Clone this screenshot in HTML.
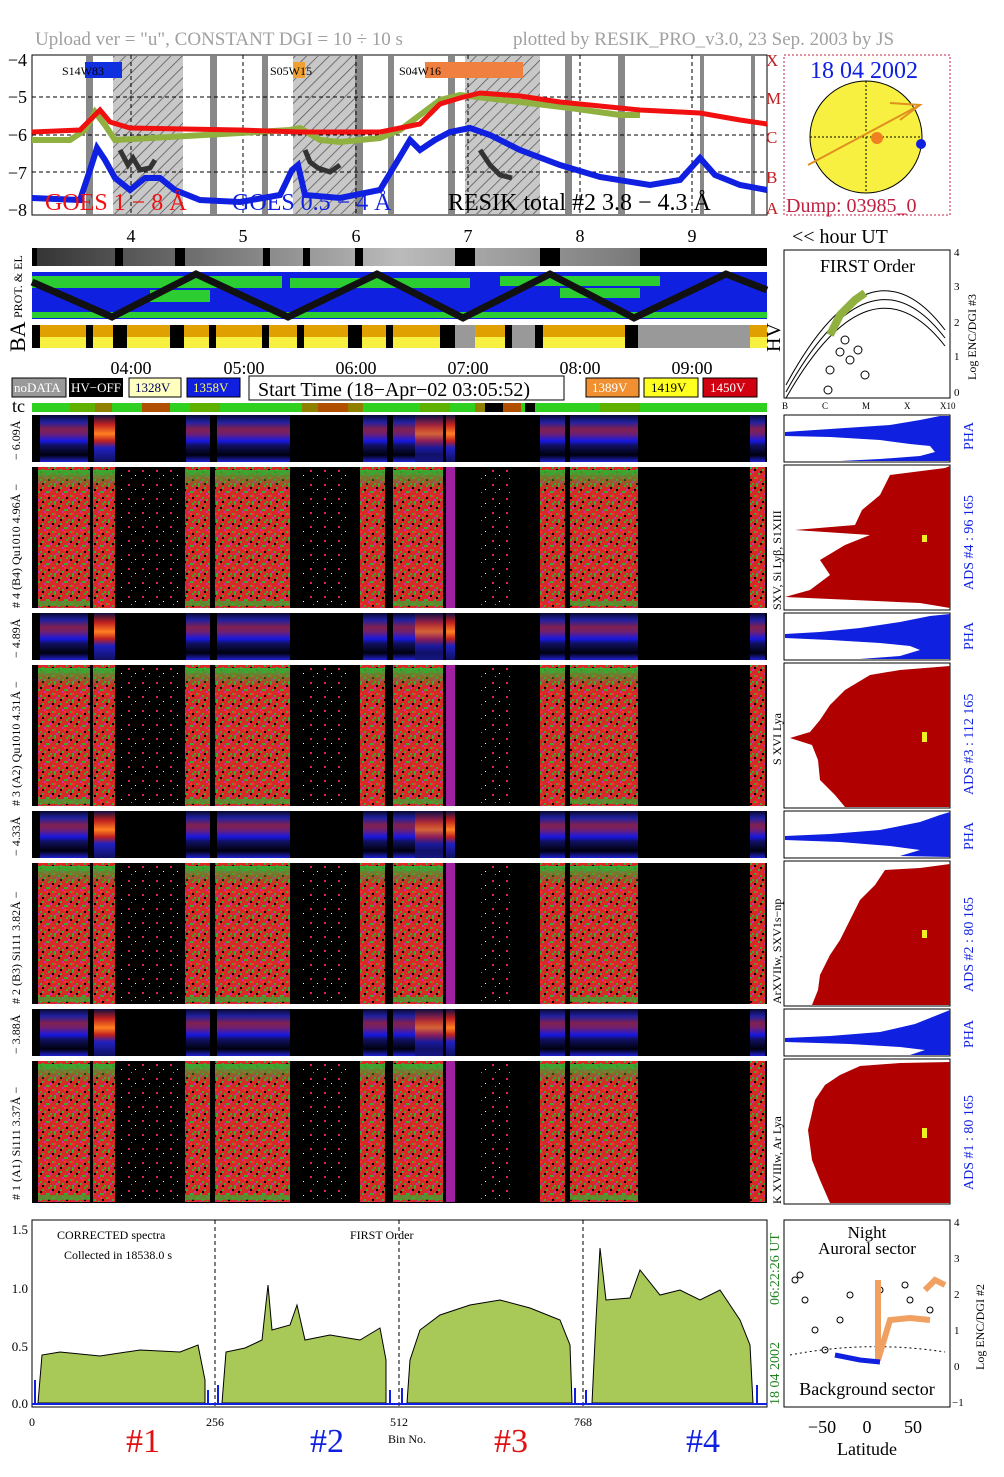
<!DOCTYPE html><html><head><style>body{margin:0;background:#fff}svg{display:block}text{font-family:"Liberation Serif",serif}</style></head><body>
<svg width="1004" height="1477" viewBox="0 0 1004 1477" xmlns="http://www.w3.org/2000/svg">
<defs>
<pattern id="hatch" width="8" height="8" patternUnits="userSpaceOnUse" patternTransform="rotate(45)"><rect width="8" height="8" fill="#c8c8c8"/><line x1="0" y1="0" x2="0" y2="8" stroke="#555" stroke-width="1.5"/></pattern>
<pattern id="noise" width="18" height="18" patternUnits="userSpaceOnUse"><rect width="18" height="18" fill="#d82828"/>
<g fill="#30b030"><rect x="0" y="0" width="2" height="2"/><rect x="6" y="2" width="2" height="2"/><rect x="12" y="0" width="2" height="2"/><rect x="2" y="6" width="2" height="2"/><rect x="10" y="6" width="4" height="2"/><rect x="16" y="10" width="2" height="2"/><rect x="4" y="12" width="2" height="2"/><rect x="8" y="14" width="2" height="2"/><rect x="14" y="16" width="2" height="2"/><rect x="0" y="16" width="2" height="2"/></g>
<g fill="#c030c0"><rect x="8" y="8" width="2" height="2"/><rect x="14" y="4" width="2" height="2"/><rect x="2" y="14" width="2" height="2"/></g>
<g fill="#000"><rect x="4" y="4" width="2" height="2"/><rect x="12" y="12" width="2" height="2"/><rect x="16" y="2" width="2" height="2"/><rect x="6" y="16" width="2" height="2"/></g>
<g fill="#ff3030"><rect x="10" y="10" width="2" height="2"/><rect x="0" y="10" width="2" height="2"/></g>
</pattern>
<pattern id="sparse" width="14" height="14" patternUnits="userSpaceOnUse"><rect width="14" height="14" fill="#000"/><rect x="2" y="3" width="2" height="2" fill="#e02050"/><rect x="9" y="8" width="1" height="1" fill="#fff"/><rect x="5" y="11" width="1" height="1" fill="#40c040"/></pattern>
<linearGradient id="pha" x1="0" y1="0" x2="0" y2="1"><stop offset="0" stop-color="#080830"/><stop offset="0.15" stop-color="#2020a0"/><stop offset="0.3" stop-color="#802050"/><stop offset="0.4" stop-color="#702070"/><stop offset="0.55" stop-color="#1818e0"/><stop offset="0.65" stop-color="#101060"/><stop offset="0.85" stop-color="#000010"/><stop offset="1" stop-color="#2020d0"/></linearGradient>
<linearGradient id="pha2" x1="0" y1="0" x2="0" y2="1"><stop offset="0" stop-color="#101040"/><stop offset="0.2" stop-color="#c02020"/><stop offset="0.4" stop-color="#ff8020"/><stop offset="0.55" stop-color="#c02020"/><stop offset="0.7" stop-color="#2020c0"/><stop offset="1" stop-color="#101060"/></linearGradient>
<linearGradient id="gtop" x1="0" y1="0" x2="0" y2="1"><stop offset="0" stop-color="#30b030"/><stop offset="1" stop-color="#30b030" stop-opacity="0"/></linearGradient>
<linearGradient id="grey" x1="0" y1="0" x2="1" y2="0"><stop offset="0" stop-color="#333"/><stop offset="0.5" stop-color="#bbb"/><stop offset="1" stop-color="#555"/></linearGradient>
<g id="row">
<rect x="38" width="52" height="141" fill="url(#noise)"/><rect x="93" width="22" height="141" fill="url(#noise)"/><rect x="120" width="58" height="141" fill="url(#sparse)"/><rect x="185" width="25" height="141" fill="url(#noise)"/><rect x="215" width="75" height="141" fill="url(#noise)"/><rect x="300" width="50" height="141" fill="url(#sparse)"/><rect x="360" width="25" height="141" fill="url(#noise)"/><rect x="393" width="50" height="141" fill="url(#noise)"/><rect x="446" width="9" height="141" fill="#a020a0"/><rect x="480" width="30" height="141" fill="url(#sparse)"/><rect x="540" width="25" height="141" fill="url(#noise)"/><rect x="570" width="68" height="141" fill="url(#noise)"/><rect x="750" width="15" height="141" fill="url(#noise)"/>
<g fill="url(#gtop)"><rect x="38" y="3" width="52" height="18"/><rect x="93" y="3" width="22" height="18"/><rect x="185" y="3" width="25" height="18"/><rect x="215" y="3" width="75" height="18"/><rect x="360" y="3" width="25" height="18"/><rect x="393" y="3" width="50" height="18"/><rect x="540" y="3" width="25" height="18"/><rect x="570" y="3" width="68" height="18"/></g>
<g fill="#30b030" opacity="0.7"><rect x="38" y="134" width="52" height="5"/><rect x="185" y="134" width="25" height="5"/><rect x="215" y="134" width="75" height="5"/><rect x="393" y="134" width="50" height="5"/><rect x="570" y="134" width="68" height="5"/></g>
</g>
<g id="prow">
<rect x="40" width="48" height="47" fill="url(#pha)"/><rect x="94" width="21" height="47" fill="url(#pha2)"/><rect x="186" width="24" height="47" fill="url(#pha)"/><rect x="217" width="73" height="47" fill="url(#pha)"/><rect x="363" width="24" height="47" fill="url(#pha)"/><rect x="393" width="50" height="47" fill="url(#pha)"/><rect x="415" width="28" height="47" fill="url(#pha2)" opacity="0.7"/><rect x="446" width="9" height="47" fill="url(#pha2)"/><rect x="540" width="25" height="47" fill="url(#pha)"/><rect x="570" width="68" height="47" fill="url(#pha)"/><rect x="750" width="15" height="47" fill="url(#pha)"/>
</g>
</defs>
<text x="35" y="45" font-size="19" fill="#a0a0a0">Upload ver = "u", CONSTANT  DGI =  10 ÷  10 s</text>
<text x="513" y="45" font-size="19" fill="#a0a0a0">plotted by RESIK_PRO_v3.0, 23 Sep. 2003 by JS</text>
<rect x="32" y="55" width="735" height="160" fill="#fff" stroke="#000"/>
<g fill="url(#hatch)"><rect x="113" y="56" width="70" height="158"/><rect x="293" y="56" width="64" height="158"/><rect x="465" y="56" width="75" height="158"/></g>
<g fill="#888"><rect x="86" y="56" width="7" height="158"/><rect x="210" y="56" width="7" height="158"/><rect x="262" y="56" width="6" height="158"/><rect x="355" y="56" width="8" height="158"/><rect x="388" y="56" width="6" height="158"/><rect x="448" y="56" width="7" height="158"/><rect x="565" y="56" width="7" height="158"/><rect x="618" y="56" width="7" height="158"/><rect x="700" y="56" width="4" height="158"/><rect x="751" y="56" width="4" height="158"/></g>
<g stroke="#000" stroke-dasharray="4,3" stroke-width="1"><line x1="32" y1="97" x2="767" y2="97"/><line x1="32" y1="135" x2="767" y2="135"/><line x1="32" y1="172" x2="767" y2="172"/><line x1="131" y1="55" x2="131" y2="215"/><line x1="243" y1="55" x2="243" y2="215"/><line x1="356" y1="55" x2="356" y2="215"/><line x1="468" y1="55" x2="468" y2="215"/><line x1="580" y1="55" x2="580" y2="215"/><line x1="692" y1="55" x2="692" y2="215"/></g>
<rect x="85" y="62" width="37" height="16" fill="#1030e0"/><text x="62" y="75" font-size="12">S14W83</text>
<rect x="293" y="62" width="12" height="16" fill="#f0a030"/><text x="270" y="75" font-size="12">S05W15</text>
<rect x="425" y="62" width="98" height="16" fill="#f08040"/><text x="399" y="75" font-size="12">S04W16</text>
<polyline fill="none" stroke="#90b040" stroke-width="6" points="32,140 70,140 85,130 95,112 105,125 115,140 240,133 290,130 300,128 320,140 340,142 380,138 400,130 420,115 440,100 460,95 520,102 570,108 620,115 640,115"/>
<polyline fill="none" stroke="#f01010" stroke-width="5" points="32,132 80,130 92,118 100,110 110,122 130,128 240,130 300,132 380,132 420,124 440,104 460,98 480,93 520,96 560,102 640,110 700,113 740,120 767,124"/>
<polyline fill="none" stroke="#1020e0" stroke-width="6" points="32,198 80,200 90,170 97,148 105,160 115,178 130,190 145,178 160,178 175,190 200,200 240,202 280,195 292,170 298,165 305,195 340,198 380,190 395,165 410,140 420,150 435,140 450,132 470,128 490,135 520,150 560,165 600,177 650,185 680,180 700,158 715,175 740,185 767,190"/>
<polyline fill="none" stroke="#333" stroke-width="5" points="120,150 128,165 133,158 140,170 150,168 155,160"/>
<polyline fill="none" stroke="#333" stroke-width="5" points="305,150 310,162 318,168 330,172 340,165"/>
<polyline fill="none" stroke="#333" stroke-width="5" points="480,150 490,165 500,175 512,178"/>
<text x="45" y="210" font-size="24" fill="#f01010">GOES 1 − 8 Å</text>
<text x="232" y="210" font-size="24" fill="#1020e0">GOES 0.5 − 4 Å</text>
<text x="448" y="210" font-size="24">RESIK total #2  3.8 − 4.3 Å</text>
<g font-size="18" text-anchor="end"><text x="27" y="66">−4</text><text x="27" y="103">−5</text><text x="27" y="141">−6</text><text x="27" y="179">−7</text><text x="27" y="216">−8</text></g>
<g font-size="17" fill="#c02020"><text x="766" y="214">A</text><text x="766" y="183">B</text><text x="766" y="143">C</text><text x="766" y="104">M</text><text x="766" y="66">X</text></g>
<g font-size="18" text-anchor="middle"><text x="131" y="242">4</text><text x="243" y="242">5</text><text x="356" y="242">6</text><text x="468" y="242">7</text><text x="580" y="242">8</text><text x="692" y="242">9</text></g>
<text x="792" y="243" font-size="20">&lt;&lt; hour UT</text>
<rect x="784" y="55" width="166" height="160" fill="#fff" stroke="#c02040" stroke-dasharray="2,2"/>
<circle cx="866" cy="137" r="56" fill="#f8f040" stroke="#000"/>
<line x1="810" y1="137" x2="922" y2="137" stroke="#000" stroke-dasharray="2,2"/><line x1="866" y1="81" x2="866" y2="193" stroke="#000" stroke-dasharray="2,2"/>
<line x1="808" y1="165" x2="920" y2="105" stroke="#e09020" stroke-width="2"/><polyline points="890,103 920,105 900,120" fill="none" stroke="#e09020" stroke-width="2"/>
<circle cx="877" cy="138" r="6" fill="#f08020"/><circle cx="921" cy="144" r="5" fill="#1020e0"/>
<text x="810" y="78" font-size="24" fill="#1020e0">18 04 2002</text>
<text x="786" y="212" font-size="20" fill="#c02040">Dump: 03985_0</text>
<rect x="32" y="248" width="735" height="18" fill="url(#grey)"/>
<g fill="#000"><rect x="32" y="248" width="5" height="18"/><rect x="115" y="248" width="8" height="18"/><rect x="175" y="248" width="10" height="18"/><rect x="263" y="248" width="7" height="18"/><rect x="303" y="248" width="7" height="18"/><rect x="355" y="248" width="8" height="18"/><rect x="455" y="248" width="20" height="18"/><rect x="540" y="248" width="20" height="18"/><rect x="640" y="248" width="127" height="18"/></g>
<rect x="32" y="272" width="735" height="47" fill="#1020e0"/>
<g fill="#30e020" opacity="0.9"><rect x="32" y="276" width="250" height="12"/><rect x="290" y="278" width="180" height="10"/><rect x="500" y="276" width="160" height="10"/><rect x="32" y="312" width="735" height="6"/><rect x="150" y="290" width="60" height="12"/><rect x="560" y="288" width="80" height="10"/></g>
<polyline fill="none" stroke="#111" stroke-width="7" points="32,282 112,317 196,274 288,317 377,274 463,318 550,274 634,318 726,274 767,290"/>
<rect x="32" y="325" width="735" height="23" fill="#000"/>
<rect x="32" y="325" width="735" height="12" fill="#e0a000"/><rect x="32" y="337" width="735" height="11" fill="#f8f040"/>
<g fill="#000"><rect x="32" y="325" width="8" height="23"/><rect x="86" y="325" width="7" height="23"/><rect x="113" y="325" width="14" height="23"/><rect x="170" y="325" width="14" height="23"/><rect x="209" y="325" width="7" height="23"/><rect x="262" y="325" width="7" height="23"/><rect x="297" y="325" width="7" height="23"/><rect x="348" y="325" width="14" height="23"/><rect x="386" y="325" width="7" height="23"/><rect x="440" y="325" width="15" height="23"/><rect x="505" y="325" width="7" height="23"/><rect x="535" y="325" width="8" height="23"/><rect x="625" y="325" width="13" height="23"/></g>
<rect x="455" y="325" width="20" height="23" fill="#999"/><rect x="512" y="325" width="23" height="23" fill="#999"/><rect x="638" y="325" width="112" height="23" fill="#999"/>
<text x="22" y="318" font-size="12" transform="rotate(-90 22 318)">PROT. &amp; EL</text>
<text x="25" y="352" font-size="22" transform="rotate(-90 25 352)">BA</text>
<text x="780" y="352" font-size="20" transform="rotate(-90 780 352)">HV</text>
<rect x="784" y="250" width="166" height="148" fill="#fff" stroke="#000"/>
<text x="820" y="272" font-size="18">FIRST Order</text>
<path d="M786,385 Q870,230 945,330" fill="none" stroke="#000"/><path d="M786,392 Q870,240 945,338" fill="none" stroke="#000"/><path d="M786,398 Q870,250 945,346" fill="none" stroke="#000"/>
<polyline fill="none" stroke="#90b040" stroke-width="8" points="830,335 840,315 855,300 865,293"/>
<g fill="none" stroke="#000"><circle cx="840" cy="352" r="4"/><circle cx="850" cy="360" r="4"/><circle cx="858" cy="350" r="4"/><circle cx="830" cy="370" r="4"/><circle cx="865" cy="375" r="4"/><circle cx="845" cy="340" r="4"/><circle cx="828" cy="390" r="4"/></g>
<g font-size="9"><text x="782" y="409">B</text><text x="822" y="409">C</text><text x="862" y="409">M</text><text x="904" y="409">X</text><text x="940" y="409">X10</text></g>
<g font-size="11"><text x="954" y="256">4</text><text x="954" y="290">3</text><text x="954" y="326">2</text><text x="954" y="360">1</text><text x="954" y="396">0</text></g>
<text x="976" y="380" font-size="12" transform="rotate(-90 976 380)">Log ENC/DGI #3</text>
<g font-size="18" text-anchor="middle"><text x="131" y="374">04:00</text><text x="244" y="374">05:00</text><text x="356" y="374">06:00</text><text x="468" y="374">07:00</text><text x="580" y="374">08:00</text><text x="692" y="374">09:00</text></g>
<rect x="12" y="378" width="54" height="19" fill="#999" stroke="#000"/><text x="14" y="392" font-size="13" fill="#fff">noDATA</text>
<rect x="69" y="378" width="54" height="19" fill="#000"/><text x="71" y="392" font-size="13" fill="#fff">HV−OFF</text>
<rect x="129" y="378" width="52" height="19" fill="#ffffc0" stroke="#000"/><text x="135" y="392" font-size="13" fill="#000060">1328V</text>
<rect x="187" y="378" width="53" height="19" fill="#1020e0" stroke="#000"/><text x="193" y="392" font-size="13" fill="#ffff60">1358V</text>
<rect x="249" y="376" width="315" height="24" fill="#fff" stroke="#000"/><text x="258" y="396" font-size="20">Start Time (18−Apr−02 03:05:52)</text>
<rect x="586" y="378" width="53" height="19" fill="#f09030" stroke="#000"/><text x="592" y="392" font-size="13" fill="#fff">1389V</text>
<rect x="644" y="378" width="54" height="19" fill="#ffff20" stroke="#000"/><text x="651" y="392" font-size="13" fill="#000">1419V</text>
<rect x="703" y="378" width="54" height="19" fill="#d00010" stroke="#000"/><text x="710" y="392" font-size="13" fill="#fff">1450V</text>
<text x="12" y="412" font-size="18">tc</text>
<rect x="32" y="403" width="735" height="9" fill="#30d020"/>
<g fill="#60b000"><rect x="70" y="403" width="25" height="9"/><rect x="190" y="403" width="30" height="9"/><rect x="420" y="403" width="30" height="9"/><rect x="600" y="403" width="40" height="9"/></g>
<g fill="#b05000"><rect x="142" y="403" width="28" height="9"/><rect x="318" y="403" width="30" height="9"/><rect x="503" y="403" width="18" height="9"/></g>
<g fill="#908000"><rect x="95" y="403" width="17" height="9"/><rect x="302" y="403" width="16" height="9"/><rect x="348" y="403" width="15" height="9"/><rect x="475" y="403" width="20" height="9"/></g>
<rect x="485" y="403" width="18" height="9" fill="#000"/><rect x="525" y="403" width="10" height="9" fill="#000"/>
<rect x="32" y="415" width="735" height="788" fill="#000"/>
<use href="#prow" y="415"/><use href="#prow" y="613"/><use href="#prow" y="811"/><use href="#prow" y="1009"/>
<use href="#row" y="467"/><use href="#row" y="665"/><use href="#row" y="863"/><use href="#row" y="1061"/>
<g fill="#fff"><rect x="32" y="462" width="735" height="5"/><rect x="32" y="608" width="735" height="5"/><rect x="32" y="660" width="735" height="5"/><rect x="32" y="806" width="735" height="5"/><rect x="32" y="858" width="735" height="5"/><rect x="32" y="1004" width="735" height="5"/><rect x="32" y="1056" width="735" height="5"/></g>
<g font-size="12">
<text x="20" y="460" transform="rotate(-90 20 460)">− 6.09Å</text>
<text x="20" y="608" transform="rotate(-90 20 608)"># 4 (B4) Qu1010 4.96Å −</text>
<text x="20" y="658" transform="rotate(-90 20 658)">− 4.89Å</text>
<text x="20" y="806" transform="rotate(-90 20 806)"># 3 (A2) Qu1010  4.31Å −</text>
<text x="20" y="856" transform="rotate(-90 20 856)">− 4.33Å</text>
<text x="20" y="1004" transform="rotate(-90 20 1004)"># 2 (B3) Si111  3.82Å −</text>
<text x="20" y="1054" transform="rotate(-90 20 1054)">− 3.88Å</text>
<text x="20" y="1200" transform="rotate(-90 20 1200)"># 1 (A1) Si111  3.37Å −</text>
</g>
<g stroke="#000" fill="#fff"><rect x="784" y="415" width="166" height="47"/><rect x="784" y="465" width="166" height="145"/><rect x="784" y="613" width="166" height="47"/><rect x="784" y="663" width="166" height="145"/><rect x="784" y="811" width="166" height="47"/><rect x="784" y="861" width="166" height="145"/><rect x="784" y="1009" width="166" height="47"/><rect x="784" y="1059" width="166" height="145"/></g>
<polygon fill="#1020e0" points="950,416 940,416 920,420 890,425 830,429 785,432 785,436 830,437 880,440 910,444 930,446 935,452 920,456 880,459 840,461 950,461"/>
<polygon fill="#1020e0" points="950,614 930,616 900,622 860,628 820,632 785,634 785,638 830,640 880,643 910,646 920,650 900,656 860,659 950,659"/>
<polygon fill="#1020e0" points="950,812 940,815 920,822 880,830 830,834 785,836 785,840 840,842 890,846 920,850 900,856 950,857"/>
<polygon fill="#1020e0" points="950,1010 935,1016 915,1024 880,1032 830,1036 785,1038 785,1042 850,1044 900,1047 925,1050 910,1055 950,1055"/>
<polygon fill="#b00000" points="950,466 945,468 890,475 880,495 862,510 855,525 795,530 870,535 845,545 820,560 830,575 810,590 785,597 920,603 950,608"/>
<polygon fill="#b00000" points="950,666 900,670 870,675 845,690 830,705 820,720 810,732 790,738 812,745 818,760 820,780 835,795 845,807 950,807"/>
<polygon fill="#b00000" points="950,864 920,868 885,870 875,885 860,900 850,920 840,940 830,955 820,975 818,990 812,1005 950,1005"/>
<polygon fill="#b00000" points="950,1062 900,1063 860,1066 840,1075 825,1085 815,1100 808,1130 812,1160 820,1180 830,1203 950,1203"/>
<g fill="#f0f020"><rect x="922" y="535" width="5" height="7"/><rect x="922" y="732" width="5" height="10"/><rect x="922" y="930" width="5" height="8"/><rect x="922" y="1128" width="5" height="10"/></g>
<g font-size="14" fill="#1020e0">
<text x="973" y="450" transform="rotate(-90 973 450)">PHA</text>
<text x="973" y="590" transform="rotate(-90 973 590)">ADS #4 :   96 165</text>
<text x="973" y="650" transform="rotate(-90 973 650)">PHA</text>
<text x="973" y="795" transform="rotate(-90 973 795)">ADS #3 :   112 165</text>
<text x="973" y="850" transform="rotate(-90 973 850)">PHA</text>
<text x="973" y="992" transform="rotate(-90 973 992)">ADS #2 :   80 165</text>
<text x="973" y="1048" transform="rotate(-90 973 1048)">PHA</text>
<text x="973" y="1190" transform="rotate(-90 973 1190)">ADS #1 :   80 165</text>
</g>
<g font-size="12">
<text x="781" y="610" transform="rotate(-90 781 610)">SXV, Si Lyβ, S1XIII</text>
<text x="781" y="765" transform="rotate(-90 781 765)">S XVI Lya</text>
<text x="781" y="1004" transform="rotate(-90 781 1004)">ArXVIIw, SXV1s−np</text>
<text x="781" y="1204" transform="rotate(-90 781 1204)">K XVIIIw, Ar Lya</text>
</g>
<rect x="32" y="1220" width="735" height="187" fill="#fff" stroke="#000"/>
<g fill="#a8c858" stroke="#000" stroke-width="1">
<polygon points="38,1403 42,1355 60,1352 100,1356 140,1350 180,1352 198,1345 205,1380 205,1403"/>
<polygon points="222,1403 226,1352 245,1348 262,1340 268,1285 272,1330 290,1325 297,1305 305,1340 330,1335 360,1340 380,1328 386,1360 386,1403"/>
<polygon points="407,1403 410,1360 420,1330 440,1315 470,1305 500,1300 530,1308 560,1320 570,1345 572,1403"/>
<polygon points="592,1403 596,1320 600,1248 606,1300 630,1298 640,1270 660,1295 680,1290 700,1300 720,1290 740,1320 750,1345 753,1403"/>
</g>
<g stroke="#000" stroke-dasharray="4,3"><line x1="215" y1="1220" x2="215" y2="1407"/><line x1="399" y1="1220" x2="399" y2="1407"/><line x1="583" y1="1220" x2="583" y2="1407"/></g>
<g stroke="#1020e0" stroke-width="2"><line x1="35" y1="1403" x2="35" y2="1380"/><line x1="208" y1="1403" x2="208" y2="1390"/><line x1="218" y1="1403" x2="218" y2="1385"/><line x1="390" y1="1403" x2="390" y2="1390"/><line x1="402" y1="1403" x2="402" y2="1388"/><line x1="575" y1="1403" x2="575" y2="1388"/><line x1="586" y1="1403" x2="586" y2="1390"/><line x1="757" y1="1403" x2="757" y2="1385"/><line x1="32" y1="1404" x2="767" y2="1404"/></g>
<g font-size="13" text-anchor="end"><text x="28" y="1234">1.5</text><text x="28" y="1293">1.0</text><text x="28" y="1351">0.5</text><text x="28" y="1408">0.0</text></g>
<g font-size="12" text-anchor="middle"><text x="32" y="1426">0</text><text x="215" y="1426">256</text><text x="399" y="1426">512</text><text x="583" y="1426">768</text><text x="407" y="1443">Bin No.</text></g>
<text x="57" y="1239" font-size="12">CORRECTED spectra</text><text x="64" y="1259" font-size="12">Collected in 18538.0 s</text>
<text x="350" y="1239" font-size="12">FIRST Order</text>
<text x="779" y="1405" font-size="14" fill="#208020" transform="rotate(-90 779 1405)">18 04 2002</text>
<text x="779" y="1305" font-size="14" fill="#208020" transform="rotate(-90 779 1305)">06:22:26 UT</text>
<g font-size="34" text-anchor="middle"><text x="143" y="1452" fill="#e01010">#1</text><text x="327" y="1452" fill="#1020e0">#2</text><text x="511" y="1452" fill="#e01010">#3</text><text x="703" y="1452" fill="#1020e0">#4</text></g>
<rect x="784" y="1220" width="166" height="187" fill="#fff" stroke="#000"/>
<text x="867" y="1238" font-size="17" text-anchor="middle">Night</text><text x="867" y="1254" font-size="17" text-anchor="middle">Auroral sector</text>
<text x="867" y="1395" font-size="18" text-anchor="middle">Background sector</text>
<path d="M790,1355 Q867,1340 945,1352" fill="none" stroke="#000" stroke-dasharray="2,3"/>
<g fill="none" stroke="#000"><circle cx="795" cy="1280" r="3"/><circle cx="805" cy="1300" r="3"/><circle cx="815" cy="1330" r="3"/><circle cx="825" cy="1350" r="3"/><circle cx="800" cy="1275" r="3"/><circle cx="850" cy="1295" r="3"/><circle cx="880" cy="1290" r="3"/><circle cx="910" cy="1300" r="3"/><circle cx="930" cy="1310" r="3"/><circle cx="840" cy="1320" r="3"/><circle cx="905" cy="1285" r="3"/></g>
<polyline fill="none" stroke="#f0a060" stroke-width="6" points="878,1280 878,1360 890,1320 910,1318 930,1320"/>
<polyline fill="none" stroke="#f0a060" stroke-width="6" points="925,1290 935,1280 945,1285"/>
<polyline fill="none" stroke="#1020e0" stroke-width="5" points="835,1355 860,1360 880,1362"/>
<g font-size="18" text-anchor="middle"><text x="822" y="1433">−50</text><text x="867" y="1433">0</text><text x="913" y="1433">50</text><text x="867" y="1455">Latitude</text></g>
<g font-size="11"><text x="954" y="1226">4</text><text x="954" y="1262">3</text><text x="954" y="1298">2</text><text x="954" y="1334">1</text><text x="954" y="1370">0</text><text x="952" y="1406">−1</text></g>
<text x="984" y="1370" font-size="12" transform="rotate(-90 984 1370)">Log ENC/DGI #2</text>
</svg>
</body></html>
